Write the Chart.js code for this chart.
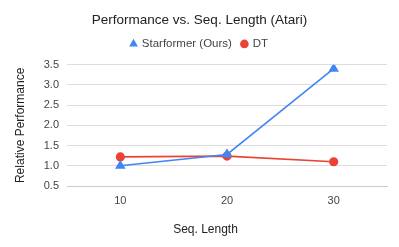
<!DOCTYPE html>
<html>
<head>
<meta charset="utf-8">
<script src="https://cdn.jsdelivr.net/npm/chart.js@4"></script>
<style>
  html, body { margin: 0; padding: 0; background: #fff; }
  #wrap { width: 399px; height: 247px; }
</style>
</head>
<body>
<div id="wrap"><canvas id="chart"></canvas></div>
<script>
// --- data ---
const seqLengths = ['10', '20', '30'];
const starformer = [1.0, 1.28, 3.4];
const dt = [1.22, 1.24, 1.1];
const yTicks = [0.5, 1.0, 1.5, 2.0, 2.5, 3.0, 3.5];
const xTitle = 'Seq. Length';

const FONT = "'Liberation Sans', Arial, sans-serif";

// x axis title sits a bit left of the plot centre in the original, so draw it by hand
const xTitlePlugin = {
    id: 'xTitle',
    afterDraw(chart) {
        const ctx = chart.ctx;
        ctx.save();
        ctx.font = '12px ' + FONT;
        ctx.fillStyle = '#222';
        ctx.textAlign = 'center';
        ctx.textBaseline = 'middle';
        ctx.fillText(xTitle, 205.5, 230);
        ctx.restore();
    }
};

// empty spacer boxes, they only keep margins without shifting title/legend
const spacer = (pos, size) => ({
    type: pos === 'top' ? 'category' : 'linear',
    position: pos,
    grid: { display: false },
    border: { display: false },
    ticks: { display: false },
    afterFit: s => { if (pos === 'top') s.height = size; else s.width = size; }
});

new Chart(document.getElementById('chart'), {
    type: 'line',
    data: {
        labels: seqLengths,
        datasets: [
            {
                label: 'Starformer (Ours)',
                data: starformer,
                borderColor: '#4285F4',
                backgroundColor: '#4285F4',
                borderWidth: 1.6,
                pointStyle: 'triangle',
                pointRadius: 4.5,
                pointHoverRadius: 4.5
            },
            {
                label: 'DT',
                data: dt,
                borderColor: '#EA4335',
                backgroundColor: '#EA4335',
                borderWidth: 1.6,
                pointStyle: 'circle',
                pointRadius: 3.8,
                pointHoverRadius: 3.8
            }
        ]
    },
    options: {
        responsive: true,
        maintainAspectRatio: false,
        animation: false,
        layout: { padding: 0 },
        plugins: {
            title: {
                display: true,
                text: 'Performance vs. Seq. Length (Atari)',
                color: '#222',
                font: { family: FONT, size: 13.5, weight: 'normal' },
                padding: { top: 12, bottom: 0 }
            },
            legend: {
                position: 'top',
                labels: {
                    usePointStyle: true,
                    boxWidth: 5,
                    boxHeight: 5,
                    padding: 10,
                    color: '#444',
                    font: { family: FONT, size: 11.5 }
                }
            },
            tooltip: { enabled: false }
        },
        scales: {
            x: {
                offset: true,
                grid: { display: false, drawTicks: false },
                border: { display: true, color: '#ccc' },
                ticks: { color: '#444', font: { family: FONT, size: 11 }, padding: 8 },
                afterFit: s => { s.height = 61; }
            },
            y: {
                min: 0.5,
                max: 3.5,
                afterBuildTicks: s => { s.ticks = yTicks.map(v => ({ value: v })); },
                grid: { color: '#ddd', drawTicks: false },
                border: { display: false },
                ticks: {
                    color: '#444',
                    font: { family: FONT, size: 11 },
                    padding: 8,
                    callback: v => v.toFixed(1)
                },
                title: {
                    display: true,
                    text: 'Relative Performance',
                    color: '#222',
                    font: { family: FONT, size: 12 },
                    padding: { top: 13, bottom: 0 }
                },
                afterFit: s => { s.width = 67; }
            },
            yr: spacer('right', 12),
            xt: spacer('top', 5)
        }
    },
    plugins: [xTitlePlugin]
});
</script>
</body>
</html>
